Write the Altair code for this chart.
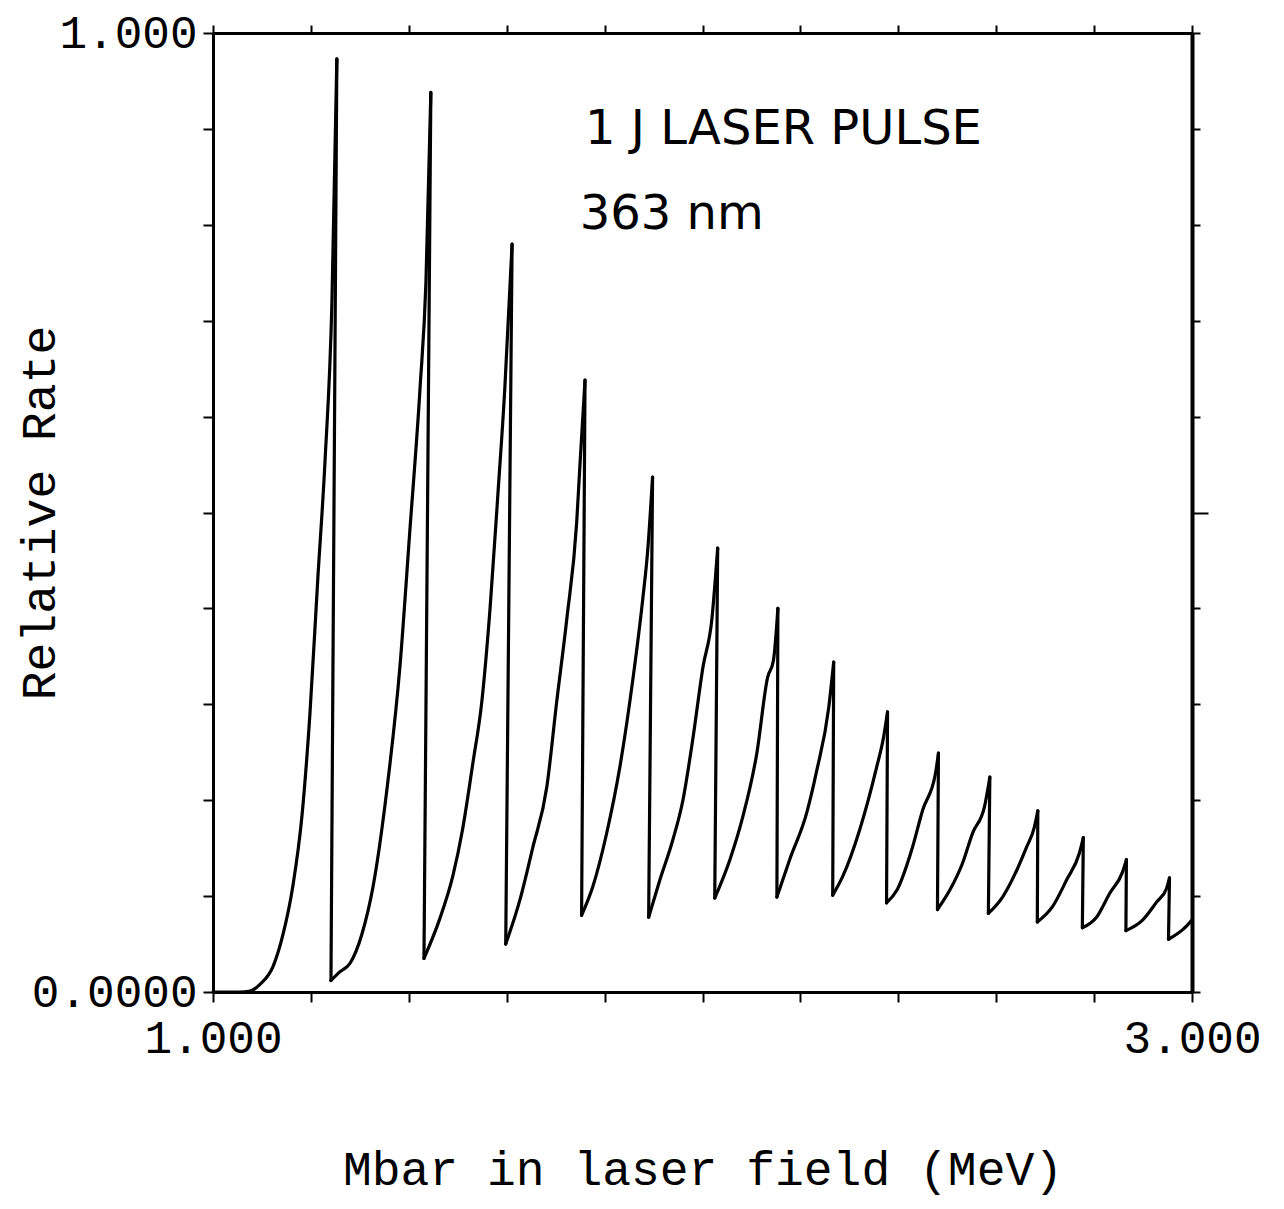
import altair as alt
import pandas as pd

# Curve (Mbar in MeV, relative rate), one rising branch per list;
# each branch ends at a peak, after which the curve drops to the next branch's first point.
seg_mev = [
    [1.000, 1.055, 1.076, 1.096, 1.123, 1.143, 1.163, 1.182, 1.198, 1.214, 1.229, 1.243, 1.253],
    [1.241, 1.259, 1.280, 1.304, 1.327, 1.355, 1.382, 1.402, 1.423, 1.435, 1.445],
    [1.431, 1.463, 1.490, 1.510, 1.531, 1.549, 1.566, 1.582, 1.596, 1.611],
    [1.598, 1.627, 1.653, 1.682, 1.702, 1.723, 1.743, 1.749, 1.760],
    [1.753, 1.776, 1.804, 1.831, 1.858, 1.878, 1.888, 1.898],
    [1.890, 1.913, 1.939, 1.960, 1.980, 2.001, 2.019, 2.031],
    [2.025, 2.056, 2.082, 2.111, 2.133, 2.145, 2.154],
    [2.152, 2.178, 2.213, 2.233, 2.258, 2.268],
    [2.266, 2.286, 2.321, 2.356, 2.370, 2.378],
    [2.376, 2.397, 2.429, 2.450, 2.476, 2.482],
    [2.480, 2.505, 2.531, 2.552, 2.576, 2.587],
    [2.584, 2.613, 2.642, 2.662, 2.678, 2.685],
    [2.684, 2.715, 2.744, 2.770, 2.778],
    [2.776, 2.805, 2.832, 2.858, 2.866],
    [2.865, 2.899, 2.928, 2.948, 2.954],
    [2.952, 2.981, 3.000],
]
seg_rate = [
    [0.000, 0.000, 0.001, 0.008, 0.027, 0.060, 0.110, 0.185, 0.290, 0.430, 0.555, 0.720, 0.973],
    [0.012, 0.021, 0.030, 0.060, 0.110, 0.210, 0.340, 0.480, 0.630, 0.740, 0.938],
    [0.035, 0.076, 0.121, 0.170, 0.239, 0.302, 0.400, 0.519, 0.628, 0.780],
    [0.050, 0.096, 0.150, 0.214, 0.302, 0.390, 0.490, 0.544, 0.638],
    [0.080, 0.110, 0.165, 0.234, 0.327, 0.410, 0.460, 0.537],
    [0.078, 0.117, 0.158, 0.200, 0.263, 0.339, 0.388, 0.463],
    [0.098, 0.138, 0.182, 0.249, 0.328, 0.346, 0.400],
    [0.099, 0.138, 0.187, 0.230, 0.297, 0.344],
    [0.101, 0.120, 0.169, 0.235, 0.266, 0.292],
    [0.093, 0.106, 0.151, 0.190, 0.228, 0.249],
    [0.086, 0.106, 0.134, 0.166, 0.193, 0.224],
    [0.082, 0.099, 0.127, 0.151, 0.172, 0.189],
    [0.073, 0.089, 0.117, 0.145, 0.161],
    [0.067, 0.078, 0.103, 0.125, 0.138],
    [0.064, 0.075, 0.094, 0.108, 0.119],
    [0.055, 0.065, 0.075],
]

# Axis ticks and labels
x_tick_values = [1.0, 1.2, 1.4, 1.6, 1.8, 2.0, 2.2, 2.4, 2.6, 2.8, 3.0]
x_label_values = [1.0, 3.0]
x_label_texts = ["1.000", "3.000"]
y_tick_values = [0.0, 0.1, 0.2, 0.3, 0.4, 0.5, 0.6, 0.7, 0.8, 0.9, 1.0]
y_label_values = [0.0, 1.0]
y_label_texts = ["0.0000", "1.000"]

# Handwritten note
note_text = ["1 J LASER PULSE", "363 nm"]
note_mev = [1.760, 1.749]
note_rate = [0.899, 0.810]
note_size = [48, 48]

rows = []
for s, (xs, ys) in enumerate(zip(seg_mev, seg_rate)):
    for i, (xv, yv) in enumerate(zip(xs, ys)):
        rows.append({"mev": xv, "rate": yv, "seg": s, "order": i})
curve = pd.DataFrame(rows)

drops = pd.DataFrame({
    "mev": [xs[-1] for xs in seg_mev[:-1]],
    "rate": [ys[-1] for ys in seg_rate[:-1]],
    "mev2": [xs[0] for xs in seg_mev[1:]],
    "rate2": [ys[0] for ys in seg_rate[1:]],
})

notes = pd.DataFrame({"mev": note_mev, "rate": note_rate, "label": note_text, "size": note_size})


def label_expr(values, texts):
    expr = "''"
    for v, t in reversed(list(zip(values, texts))):
        expr = f"abs(datum.value - {v}) < 1e-6 ? '{t}' : ({expr})"
    return expr


FONT = "Liberation Mono"
LW = 3.2
xscale = alt.Scale(domain=[1, 3], nice=False, zero=False)
yscale = alt.Scale(domain=[0, 1], nice=False, zero=False)

line = alt.Chart(curve).mark_line(
    color="black", strokeWidth=LW, interpolate="monotone", strokeCap="round"
).encode(
    x=alt.X(
        "mev:Q",
        scale=xscale,
        axis=alt.Axis(
            orient="bottom",
            values=x_tick_values,
            labelExpr=label_expr(x_label_values, x_label_texts),
            labelOverlap=False,
            labelFlush=False,
            grid=False,
            tickSize=10,
            tickWidth=2,
            tickColor="black",
            domainColor="black",
            domainWidth=3,
            labelPadding=14,
            labelFont=FONT,
            labelFontSize=46,
            labelColor="black",
            title="Mbar in laser field (MeV)",
            titleFont=FONT,
            titleFontSize=48,
            titleFontWeight="normal",
            titleColor="black",
            titleX=489.5,
            titleY=178,
            titleAlign="center",
            titleBaseline="middle",
        ),
    ),
    y=alt.Y(
        "rate:Q",
        scale=yscale,
        axis=alt.Axis(
            orient="left",
            values=y_tick_values,
            labelExpr=label_expr(y_label_values, y_label_texts),
            labelOverlap=False,
            labelFlush=False,
            grid=False,
            tickSize=10,
            tickWidth=2,
            tickColor="black",
            domainColor="black",
            domainWidth=3,
            labelPadding=6,
            labelFont=FONT,
            labelFontSize=46,
            labelColor="black",
            title="Relative Rate",
            titleFont=FONT,
            titleFontSize=48,
            titleFontWeight="normal",
            titleColor="black",
            titleAngle=270,
            titleX=-173,
            titleY=479.5,
            titleAlign="center",
            titleBaseline="middle",
        ),
    ),
    detail="seg:N",
    order="order:Q",
)

drop = alt.Chart(drops).mark_rule(color="black", strokeWidth=LW, strokeCap="round").encode(
    x=alt.X("mev:Q", scale=xscale, axis=None),
    x2="mev2:Q",
    y=alt.Y("rate:Q", scale=yscale, axis=None),
    y2="rate2:Q",
)

text = alt.Chart(notes).mark_text(
    align="left", baseline="middle", font="DejaVu Sans", color="black"
).encode(
    x=alt.X(
        "mev:Q",
        scale=xscale,
        axis=alt.Axis(
            orient="top",
            values=x_tick_values,
            labels=False,
            grid=False,
            tickSize=8,
            tickWidth=2,
            tickColor="black",
            domainColor="black",
            domainWidth=3,
            title=None,
        ),
    ),
    y=alt.Y(
        "rate:Q",
        scale=yscale,
        axis=alt.Axis(
            orient="right",
            values=y_tick_values,
            labels=False,
            grid=False,
            tickSize={"condition": {"test": "abs(datum.value - 0.5) < 1e-6", "value": 16}, "value": 8},
            tickWidth=2,
            tickColor="black",
            domainColor="black",
            domainWidth=4,
            title=None,
        ),
    ),
    text="label:N",
    size=alt.Size("size:Q", scale=None, legend=None),
)

chart = (
    alt.layer(line, drop, text)
    .resolve_axis(x="independent", y="independent")
    .properties(
        width=979,
        height=959,
        padding={"left": 205, "top": 25, "right": 74, "bottom": 208},
        autosize=alt.AutoSizeParams(type="none"),
        background="white",
    )
    .configure_view(strokeOpacity=0)
)

chart.save("out.html", embed_options={"renderer": "svg", "actions": False})
